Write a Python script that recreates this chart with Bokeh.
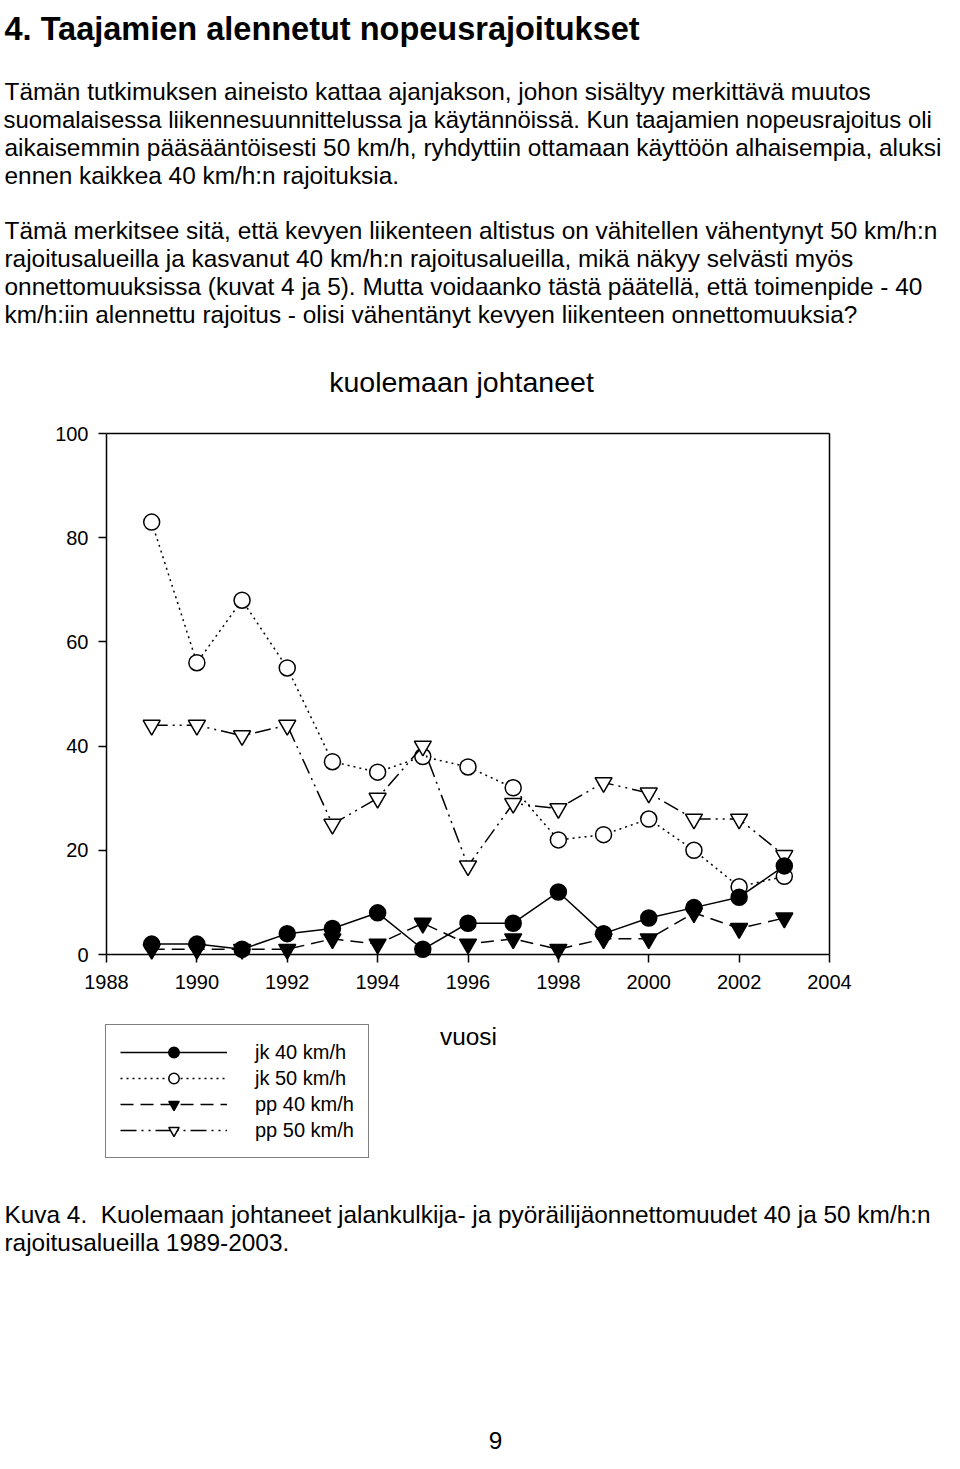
from bokeh.plotting import figure
from bokeh.models import Range1d, Legend, LegendItem, FixedTicker, LinearAxis
from bokeh.core.properties import value
from bokeh.embed import file_html
from bokeh.resources import INLINE

# ---------------- data ----------------
years = [1989, 1990, 1991, 1992, 1993, 1994, 1995, 1996, 1997, 1998, 1999, 2000, 2001, 2002, 2003]
jk40 = [2, 2, 1, 4, 5, 8, 1, 6, 6, 12, 4, 7, 9, 11, 17]
jk50 = [83, 56, 68, 55, 37, 35, 38, 36, 32, 22, 23, 26, 20, 13, 15]
pp40 = [1, 1, 1, 1, 3, 2, 6, 2, 3, 1, 3, 3, 8, 5, 7]
pp50 = [44, 44, 42, 44, 25, 30, 40, 17, 29, 28, 33, 31, 26, 26, 19]
series_labels = ["jk 40 km/h", "jk 50 km/h", "pp 40 km/h", "pp 50 km/h"]
x_ticks = [1988, 1990, 1992, 1994, 1996, 1998, 2000, 2002, 2004]
y_ticks = [0, 20, 40, 60, 80, 100]

heading = "4. Taajamien alennetut nopeusrajoitukset"
para1 = [
    "Tämän tutkimuksen aineisto kattaa ajanjakson, johon sisältyy merkittävä muutos",
    "suomalaisessa liikennesuunnittelussa ja käytännöissä. Kun taajamien nopeusrajoitus oli",
    "aikaisemmin pääsääntöisesti 50 km/h, ryhdyttiin ottamaan käyttöön alhaisempia, aluksi",
    "ennen kaikkea 40 km/h:n rajoituksia.",
]
para2 = [
    "Tämä merkitsee sitä, että kevyen liikenteen altistus on vähitellen vähentynyt 50 km/h:n",
    "rajoitusalueilla ja kasvanut 40 km/h:n rajoitusalueilla, mikä näkyy selvästi myös",
    "onnettomuuksissa (kuvat 4 ja 5). Mutta voidaanko tästä päätellä, että toimenpide - 40",
    "km/h:iin alennettu rajoitus - olisi vähentänyt kevyen liikenteen onnettomuuksia?",
]
chart_title = "kuolemaan johtaneet"
x_title = "vuosi"
caption = [
    "Kuva 4.\u00a0 Kuolemaan johtaneet jalankulkija- ja pyöräilijäonnettomuudet 40 ja 50 km/h:n",
    "rajoitusalueilla 1989-2003.",
]
page_no = "9"

FONT = "Liberation Sans"

# ---------------- page geometry (pixels) ----------------
W, H = 944, 1453
PLOT_L, PLOT_R, PLOT_T, PLOT_B = 106, 829, 433, 954   # chart box on the page
X0, X1 = x_ticks[0], x_ticks[-1]
Y0, Y1 = y_ticks[0], y_ticks[-1]
kx = (PLOT_R - PLOT_L) / (X1 - X0)
ky = (PLOT_B - PLOT_T) / (Y1 - Y0)

p = figure(width=W, height=H,
           x_range=Range1d(X0 - PLOT_L / kx, X0 + (W - PLOT_L) / kx),
           y_range=Range1d(Y0 - (H - PLOT_B) / ky, Y0 + PLOT_B / ky),
           x_axis_type=None, y_axis_type=None, title=None, min_border=0,
           output_backend="svg", toolbar_location=None)
p.outline_line_color = None
p.background_fill_color = "white"
p.border_fill_color = "white"
p.extra_x_ranges = {"px": Range1d(0, W)}
p.extra_y_ranges = {"py": Range1d(H, 0)}


def style_axis(ax, ticks):
    ax.ticker = FixedTicker(ticks=ticks)
    ax.axis_line_color = "black"
    ax.axis_line_width = 1.5
    ax.major_tick_line_color = "black"
    ax.major_tick_line_width = 1.5
    ax.major_tick_in = 0
    ax.major_tick_out = 8
    ax.minor_tick_line_color = None
    ax.major_label_text_font = FONT
    ax.major_label_text_font_size = "20px"
    ax.major_label_text_color = "black"


xax = LinearAxis(fixed_location=Y0, bounds=(X0, X1))
style_axis(xax, x_ticks)
xax.major_label_standoff = 12
p.add_layout(xax, "below")

yax = LinearAxis(fixed_location=X0, bounds=(Y0, Y1))
style_axis(yax, y_ticks)
yax.major_label_standoff = 10
p.add_layout(yax, "left")

tax = LinearAxis(fixed_location=Y1, bounds=(X0, X1))
style_axis(tax, [])
p.add_layout(tax, "above")

rax = LinearAxis(fixed_location=X1, bounds=(Y0, Y1))
style_axis(rax, [])
p.add_layout(rax, "right")

# ---------------- series ----------------
STYLES = [
    dict(dash="solid", marker="circle", size=16, fill="black"),
    dict(dash="2 4", marker="circle", size=16, fill="white"),
    dict(dash="13 7", marker="inverted_triangle", size=17, fill="black"),
    dict(dash="16 5 2 5 2 5", marker="inverted_triangle", size=17, fill="white"),
]
series = [jk40, jk50, pp40, pp50]
rend = {}
for k in [1, 3, 2, 0]:
    st = STYLES[k]
    lr = p.line(years, series[k], line_color="black", line_width=1.5, line_dash=st["dash"])
    sr = p.scatter(years, series[k], marker=st["marker"], size=st["size"], fill_color=st["fill"],
                   line_color="black", line_width=1.5)
    rend[k] = [lr, sr]

legend = Legend(
    items=[LegendItem(label=series_labels[k], renderers=rend[k]) for k in range(4)],
    location=(105, H - 1158), orientation="vertical",
    glyph_width=107, glyph_height=26, label_height=20, label_standoff=28,
    padding=14, spacing=0, margin=0,
    label_text_font=FONT, label_text_font_size="20px", label_text_color="black",
    border_line_color="black", border_line_width=1.5,
    background_fill_color="white", background_fill_alpha=1.0,
)
p.add_layout(legend)


# ---------------- page text ----------------
def put(lines, x, y0, dy, size, bold=False, align="left"):
    p.text(x=[x] * len(lines), y=[y0 + dy * i for i in range(len(lines))], text=lines,
           x_range_name="px", y_range_name="py",
           text_font=value(FONT), text_font_size=value(size),
           text_font_style=value("bold" if bold else "normal"),
           text_color="black", text_align=value(align), text_baseline=value("alphabetic"))


put([heading], 4, 28, 0, "32.5px", bold=True)
put([para1[0]], 4, 91, 0, "24.4px")
put([para1[1]], 3, 119, 0, "23.9px")
put(para1[2:], 4, 147, 28, "24.4px")
put(para2, 4, 230, 28, "24.4px")
put([chart_title], 461, 381, 0, "28.5px", align="center")
put([x_title], 468, 1036, 0, "24.4px", align="center")
put(caption, 4, 1214, 28, "24.4px")
put([page_no], 495, 1440, 0, "24.4px", align="center")

open("out.html", "w").write(file_html(p, INLINE))
